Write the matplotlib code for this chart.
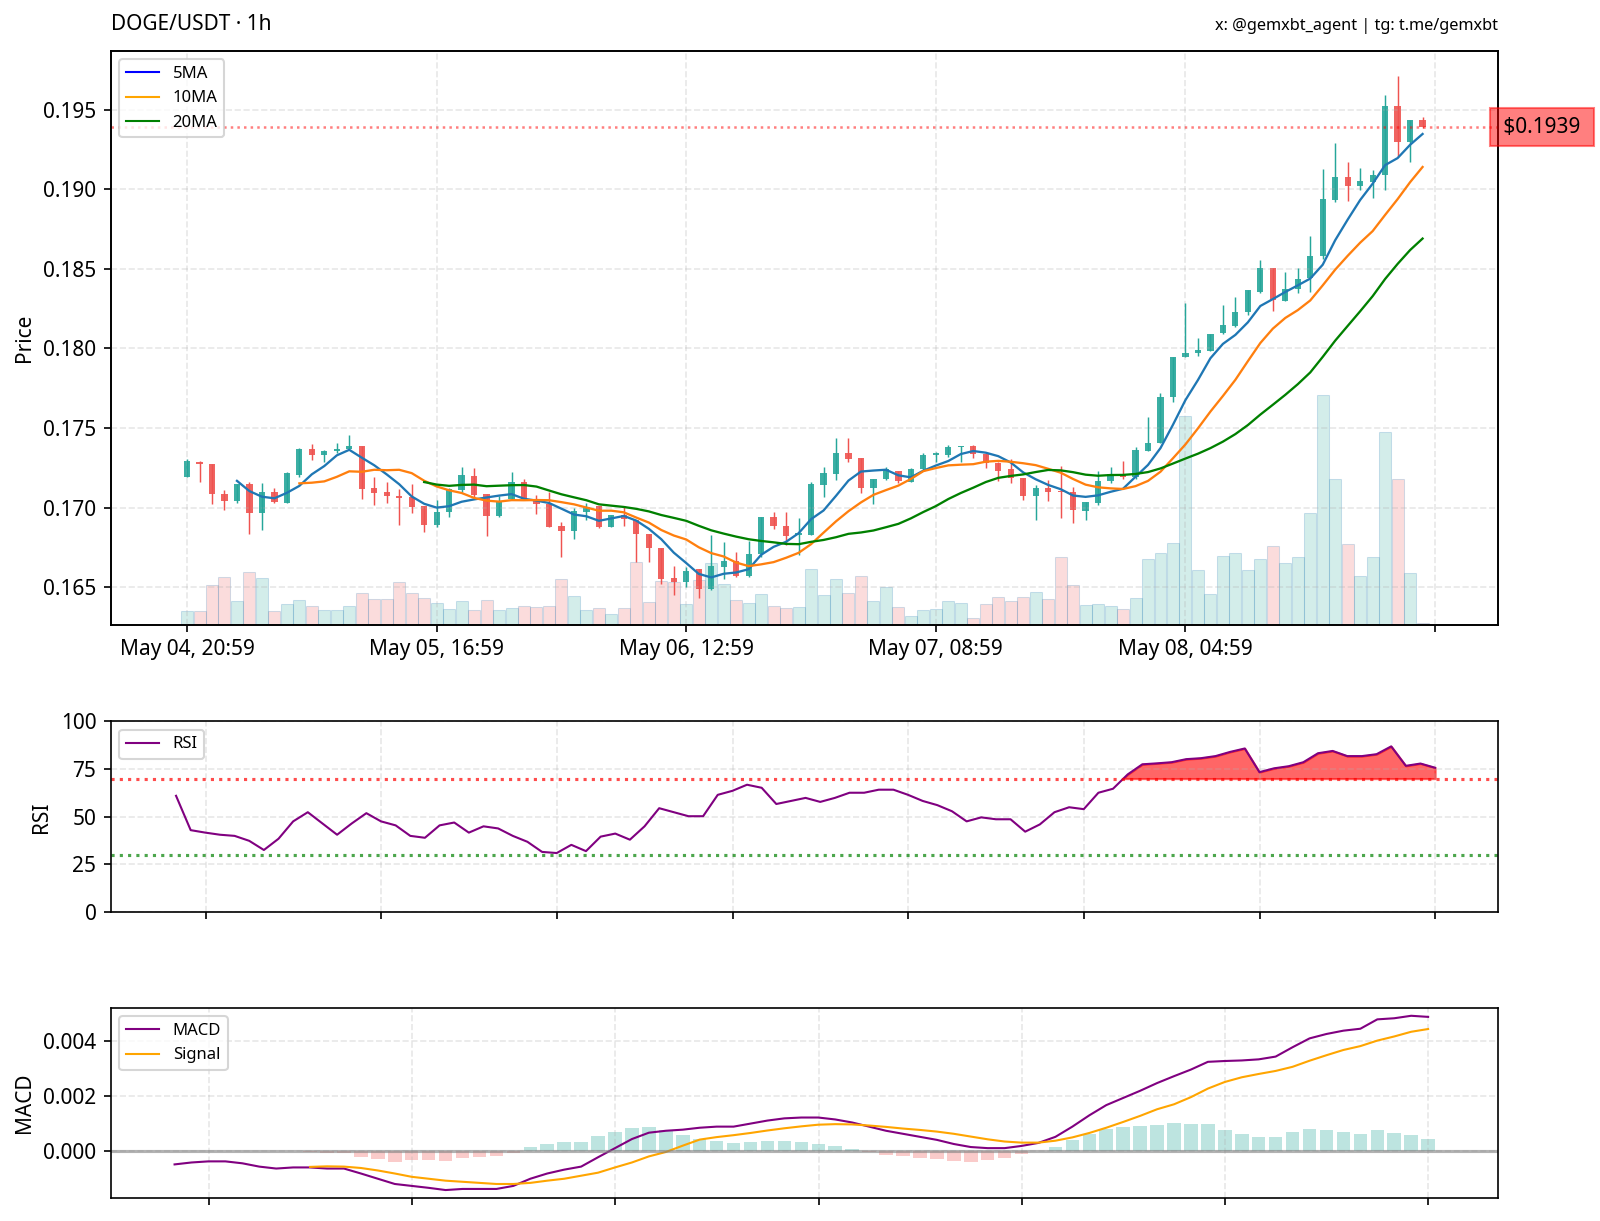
import numpy as np
import pandas as pd
import matplotlib
matplotlib.use('Agg')
import matplotlib.pyplot as plt
import matplotlib.dates as mdates
import matplotlib.transforms as mtransforms
from matplotlib.lines import Line2D

plt.rcParams['font.family'] = ['Noto Sans', 'DejaVu Sans']

# hourly candles, DOGE/USDT
times = pd.date_range('2025-05-04 20:59', periods=100, freq='h')

opens = [0.17195, 0.17289, 0.17277, 0.17088, 0.17044, 0.17149, 0.16969, 0.17099, 0.17032, 0.17206,
         0.17367, 0.17333, 0.17356, 0.17367, 0.17390, 0.17122, 0.17099, 0.17076, 0.17065, 0.17011,
         0.16889, 0.16973, 0.17111, 0.17199, 0.17086, 0.16948, 0.17057, 0.17164, 0.17057, 0.17023,
         0.16885, 0.16854, 0.16973, 0.17013, 0.16881, 0.16954, 0.16923, 0.16833, 0.16745, 0.16558,
         0.16531, 0.16613, 0.16493, 0.16630, 0.16667, 0.16571, 0.16707, 0.16944, 0.16888, 0.16829,
         0.16829, 0.17143, 0.17212, 0.17346, 0.17311, 0.17122, 0.17181, 0.17233, 0.17164, 0.17241,
         0.17331, 0.17331, 0.17380, 0.17388, 0.17336, 0.17279, 0.17241, 0.17189, 0.17076, 0.17122,
         0.17107, 0.17101, 0.16982, 0.17028, 0.17170, 0.17208, 0.17195, 0.17359, 0.17405, 0.17694,
         0.17945, 0.17970, 0.17987, 0.18096, 0.18142, 0.18226, 0.18357, 0.18504, 0.18301, 0.18372,
         0.18440, 0.18578, 0.18934, 0.19075, 0.19018, 0.19047, 0.19091, 0.19521, 0.19295, 0.19435]
highs = [0.17304, 0.17291, 0.17277, 0.17111, 0.17149, 0.17162, 0.17157, 0.17122, 0.17222, 0.17373,
         0.17400, 0.17363, 0.17409, 0.17457, 0.17390, 0.17191, 0.17164, 0.17118, 0.17147, 0.17011,
         0.17048, 0.17122, 0.17258, 0.17252, 0.17086, 0.17074, 0.17226, 0.17180, 0.17080, 0.17101,
         0.16912, 0.17000, 0.17032, 0.17013, 0.16952, 0.17011, 0.16923, 0.16833, 0.16745, 0.16634,
         0.16630, 0.16613, 0.16829, 0.16783, 0.16722, 0.16791, 0.16944, 0.16975, 0.16975, 0.16934,
         0.17160, 0.17258, 0.17436, 0.17440, 0.17311, 0.17181, 0.17258, 0.17233, 0.17252, 0.17342,
         0.17352, 0.17394, 0.17390, 0.17392, 0.17336, 0.17290, 0.17304, 0.17189, 0.17143, 0.17174,
         0.17262, 0.17128, 0.17034, 0.17233, 0.17254, 0.17296, 0.17380, 0.17568, 0.17719, 0.17945,
         0.18288, 0.18064, 0.18089, 0.18270, 0.18322, 0.18364, 0.18556, 0.18504, 0.18483, 0.18508,
         0.18708, 0.19127, 0.19288, 0.19169, 0.19133, 0.19121, 0.19592, 0.19709, 0.19435, 0.19452]
lows = [0.17195, 0.17164, 0.17023, 0.16986, 0.17028, 0.16833, 0.16860, 0.17032, 0.17028, 0.17195,
        0.17300, 0.17289, 0.17342, 0.17365, 0.17053, 0.17017, 0.17030, 0.16891, 0.16965, 0.16850,
        0.16877, 0.16944, 0.17101, 0.17059, 0.16824, 0.16940, 0.17057, 0.17055, 0.16961, 0.16877,
        0.16688, 0.16801, 0.16923, 0.16870, 0.16881, 0.16885, 0.16661, 0.16657, 0.16521, 0.16452,
        0.16504, 0.16431, 0.16483, 0.16556, 0.16567, 0.16563, 0.16692, 0.16866, 0.16766, 0.16703,
        0.16829, 0.17070, 0.17174, 0.17290, 0.17095, 0.17022, 0.17174, 0.17153, 0.17164, 0.17237,
        0.17290, 0.17321, 0.17290, 0.17311, 0.17248, 0.17170, 0.17153, 0.17049, 0.16923, 0.17042,
        0.16938, 0.16902, 0.16923, 0.17017, 0.17153, 0.17178, 0.17178, 0.17359, 0.17405, 0.17662,
        0.17945, 0.17953, 0.17987, 0.18089, 0.18133, 0.18211, 0.18347, 0.18238, 0.18295, 0.18347,
        0.18357, 0.18562, 0.18922, 0.18928, 0.18997, 0.18943, 0.18995, 0.19200, 0.19173, 0.19385]
closes = [0.17291, 0.17275, 0.17086, 0.17044, 0.17149, 0.16969, 0.17099, 0.17036, 0.17216, 0.17367,
          0.17333, 0.17358, 0.17371, 0.17390, 0.17120, 0.17095, 0.17071, 0.17063, 0.17007, 0.16889,
          0.16975, 0.17115, 0.17203, 0.17080, 0.16950, 0.17034, 0.17162, 0.17057, 0.17021, 0.16877,
          0.16854, 0.16979, 0.17002, 0.16879, 0.16952, 0.16931, 0.16833, 0.16745, 0.16552, 0.16531,
          0.16604, 0.16493, 0.16634, 0.16667, 0.16571, 0.16707, 0.16944, 0.16885, 0.16825, 0.16839,
          0.17149, 0.17216, 0.17346, 0.17304, 0.17122, 0.17181, 0.17241, 0.17170, 0.17241, 0.17331,
          0.17342, 0.17384, 0.17388, 0.17336, 0.17279, 0.17233, 0.17185, 0.17076, 0.17122, 0.17101,
          0.17099, 0.16986, 0.17034, 0.17170, 0.17212, 0.17195, 0.17363, 0.17405, 0.17698, 0.17945,
          0.17970, 0.17991, 0.18089, 0.18148, 0.18228, 0.18364, 0.18504, 0.18305, 0.18372, 0.18435,
          0.18578, 0.18939, 0.19075, 0.19018, 0.19050, 0.19091, 0.19521, 0.19295, 0.19435, 0.19390]
# volume, millions of DOGE
volume = [3.3, 3.3, 9.8, 11.8, 5.8, 13.0, 11.7, 3.3, 5.2, 6.2,
          4.7, 3.5, 3.7, 4.5, 7.9, 6.4, 6.4, 10.5, 7.9, 6.7,
          5.3, 3.8, 5.8, 3.5, 6.0, 3.7, 4.1, 4.5, 4.3, 4.7,
          11.3, 7.0, 3.5, 4.2, 2.5, 4.2, 15.5, 5.6, 10.8, 10.6,
          5.0, 11.2, 15.4, 10.0, 6.2, 5.3, 7.7, 4.5, 4.2, 4.3,
          13.9, 7.4, 11.3, 7.9, 12.1, 5.8, 9.3, 4.3, 2.1, 3.5,
          3.8, 5.9, 5.4, 1.7, 5.0, 6.8, 5.8, 6.8, 8.0, 6.3,
          16.8, 9.9, 4.8, 5.0, 4.6, 3.8, 6.6, 16.4, 17.8, 20.3,
          51.8, 13.5, 7.5, 17.0, 17.8, 13.5, 16.3, 19.6, 15.2, 16.8,
          27.7, 57.1, 36.3, 20.0, 12.1, 16.8, 47.9, 36.3, 12.8, 0.5]

# RSI(14), first value at the 14th candle
rsi = [61.0, 43.0, 41.7, 40.6, 40.0, 37.4, 32.6, 38.5, 47.6, 52.4,
       46.5, 40.6, 46.5, 51.9, 47.6, 45.5, 40.0, 39.0, 45.5, 47.0,
       41.7, 45.0, 43.9, 40.0, 36.9, 31.6, 31.0, 35.3, 32.0, 39.6,
       41.2, 38.0, 45.0, 54.5, 52.4, 50.3, 50.3, 61.5, 63.6, 66.8,
       65.2, 56.7, 58.3, 59.9, 57.8, 59.9, 62.6, 62.6, 64.2, 64.2,
       61.5, 58.3, 56.1, 52.9, 47.6, 49.7, 48.7, 48.7, 42.2, 46.0,
       52.4, 55.0, 54.0, 62.6, 64.7, 72.2, 77.5, 78.0, 78.6, 80.2,
       80.7, 81.8, 84.0, 85.8, 73.4, 75.4, 76.5, 78.6, 83.3, 84.5,
       81.8, 81.8, 82.8, 86.9, 76.7, 77.9, 75.7]

# MACD line from candle 26, signal from candle 34
macd = [-0.00048, -0.00041, -0.00037, -0.00037, -0.00044, -0.00056, -0.00063, -0.00059, -0.00059, -0.00063,
        -0.00063, -0.00081, -0.00100, -0.00119, -0.00126, -0.00133, -0.00141, -0.00137, -0.00137, -0.00137,
        -0.00126, -0.00100, -0.00081, -0.00067, -0.00056, -0.00022, 0.00011, 0.00044, 0.00067, 0.00074,
        0.00078, 0.00085, 0.00089, 0.00089, 0.00100, 0.00111, 0.00119, 0.00122, 0.00122, 0.00115,
        0.00104, 0.00089, 0.00074, 0.00063, 0.00052, 0.00041, 0.00026, 0.00015, 0.00011, 0.00011,
        0.00019, 0.00030, 0.00052, 0.00089, 0.00130, 0.00167, 0.00193, 0.00219, 0.00247, 0.00272,
        0.00296, 0.00324, 0.00327, 0.00329, 0.00333, 0.00343, 0.00377, 0.00409, 0.00425, 0.00437,
        0.00444, 0.00478, 0.00482, 0.00491, 0.00487]
signal = [-0.00057, -0.00055, -0.00056, -0.00061, -0.00070, -0.00081, -0.00093, -0.00100, -0.00107, -0.00111,
          -0.00115, -0.00119, -0.00119, -0.00115, -0.00107, -0.00100, -0.00089,
          -0.00078, -0.00059, -0.00041, -0.00019, -0.00003, 0.00020, 0.00042, 0.00051, 0.00058, 0.00066,
          0.00075, 0.00083, 0.00090, 0.00096, 0.00098, 0.00097, 0.00093, 0.00088, 0.00082, 0.00077,
          0.00071, 0.00063, 0.00053, 0.00043, 0.00035, 0.00031, 0.00031, 0.00038, 0.00050, 0.00066,
          0.00085, 0.00106, 0.00128,
          0.00152, 0.00170, 0.00196, 0.00227, 0.00251, 0.00268, 0.00280, 0.00291, 0.00306, 0.00328,
          0.00348, 0.00367, 0.00381, 0.00401, 0.00416, 0.00433, 0.00443]

price_ticklabels = ['May 04, 20:59', 'May 05, 16:59', 'May 06, 12:59', 'May 07, 08:59', 'May 08, 04:59', '']

UP = '#26a69a'
DOWN = '#ef5350'

df = pd.DataFrame({'open': opens, 'high': highs, 'low': lows, 'close': closes, 'volume': volume}, index=times)
df['ma5'] = df['close'].rolling(5).mean()
df['ma10'] = df['close'].rolling(10).mean()
df['ma20'] = df['close'].rolling(20).mean()

x = np.arange(len(df))
up = df['close'] >= df['open']
colors = np.where(up, UP, DOWN)

fig = plt.figure(figsize=(1600 / 150, 1221 / 150), dpi=150)
ax = fig.add_axes([0.0694, 0.4885, 0.8669, 0.4697])
ax_rsi = fig.add_axes([0.0694, 0.2529, 0.8669, 0.1563])
ax_macd = fig.add_axes([0.0694, 0.0188, 0.8669, 0.1556])

# --- price panel ---
axv = ax.twinx()
axv.bar(x, df['volume'], width=0.96, color=colors, alpha=0.2, edgecolor='#1f77b4', linewidth=0.5)
axv.set_ylim(0, df['volume'].max() * 2.5)
axv.set_yticks([])
ax.set_zorder(axv.get_zorder() + 1)
ax.patch.set_visible(False)

ax.vlines(x, df['low'], df['high'], color=colors, linewidth=0.7)
body = (df['close'] - df['open']).abs().clip(lower=0.00003)
ax.bar(x, body, bottom=df[['open', 'close']].min(axis=1), width=0.5, color=colors, alpha=0.9)

ax.plot(x, df['ma5'], color='#1f77b4', lw=1.1)
ax.plot(x, df['ma10'], color='#ff7f0e', lw=1.1)
ax.plot(x, df['ma20'], color='green', lw=1.1)

last = df['close'].iloc[-1]
ax.axhline(last, color='red', linestyle=':', alpha=0.5, lw=1.2)
trans = mtransforms.blended_transform_factory(ax.transAxes, ax.transData)
ax.text(1.0, last, f' ${last:.4f} ', transform=trans, va='center', ha='left', fontsize=10,
        bbox=dict(boxstyle='square,pad=0.4', facecolor='red', edgecolor='red', alpha=0.5))

ax.set_xlim(-6.09, 105.05)
ax.set_ylim(0.16267, 0.19867)
ax.set_xticks(np.arange(0, 101, 20))
ax.set_xticklabels(price_ticklabels)
ax.set_ylabel('Price', fontsize=10)
ax.tick_params(labelsize=10)
ax.grid(True, linestyle='--', alpha=0.3)
ax.legend(handles=[Line2D([0], [0], color='blue', lw=1, label='5MA'),
                   Line2D([0], [0], color='orange', lw=1, label='10MA'),
                   Line2D([0], [0], color='green', lw=1, label='20MA')],
          loc='upper left', fontsize=8)
ax.set_title('DOGE/USDT · 1h', loc='left', fontsize=10, pad=10)
ax.set_title('x: @gemxbt_agent | tg: t.me/gemxbt', loc='right', fontsize=7.8, pad=10)

t0 = mdates.date2num(times[0])
hour = 1 / 24

# --- RSI panel ---
rsi_t = mdates.date2num(times[13:])
rsi_v = np.array(rsi)
ax_rsi.plot(rsi_t, rsi_v, color='purple', lw=1, label='RSI')
ax_rsi.axhline(70, color='red', linestyle=':', alpha=0.7, lw=1.5)
ax_rsi.axhline(30, color='green', linestyle=':', alpha=0.7, lw=1.5)
ax_rsi.fill_between(rsi_t, rsi_v, 70, where=rsi_v >= 70, interpolate=True, color='red', alpha=0.6)
ax_rsi.set_ylim(0, 100)
ax_rsi.set_yticks([0, 25, 50, 75, 100])
ax_rsi.set_xlim(t0 + 8.56 * hour, t0 + 103.3 * hour)
ax_rsi.xaxis.set_major_locator(mdates.HourLocator(byhour=[0, 12]))
ax_rsi.xaxis.set_major_formatter(plt.NullFormatter())
ax_rsi.set_ylabel('RSI', fontsize=10)
ax_rsi.tick_params(labelsize=10)
ax_rsi.grid(True, linestyle='--', alpha=0.3)
ax_rsi.legend(loc='upper left', fontsize=8)

# --- MACD panel ---
macd_t = mdates.date2num(times[25:])
sig_t = mdates.date2num(times[33:])
macd_v = np.array(macd)
sig_v = np.array(signal)
hist = macd_v[8:] - sig_v
ax_macd.bar(sig_t, hist, width=0.8 * hour, color=np.where(hist >= 0, UP, DOWN), alpha=0.3)
ax_macd.plot(macd_t, macd_v, color='purple', lw=1, label='MACD')
ax_macd.plot(sig_t, sig_v, color='orange', lw=1, label='Signal')
ax_macd.axhline(0, color='gray', alpha=0.6, lw=1.5)
ax_macd.set_xlim(t0 + 21.25 * hour, t0 + 103.13 * hour)
ax_macd.set_ylim(-0.0017, 0.00519)
ax_macd.set_yticks([0, 0.002, 0.004])
ax_macd.yaxis.set_major_formatter(plt.FormatStrFormatter('%.3f'))
ax_macd.xaxis.set_major_locator(mdates.HourLocator(byhour=[0, 12]))
ax_macd.xaxis.set_major_formatter(plt.NullFormatter())
ax_macd.set_ylabel('MACD', fontsize=10)
ax_macd.tick_params(labelsize=10)
ax_macd.grid(True, linestyle='--', alpha=0.3)
ax_macd.legend(loc='upper left', fontsize=8)

fig.savefig('out.png', dpi=150, facecolor='white')
